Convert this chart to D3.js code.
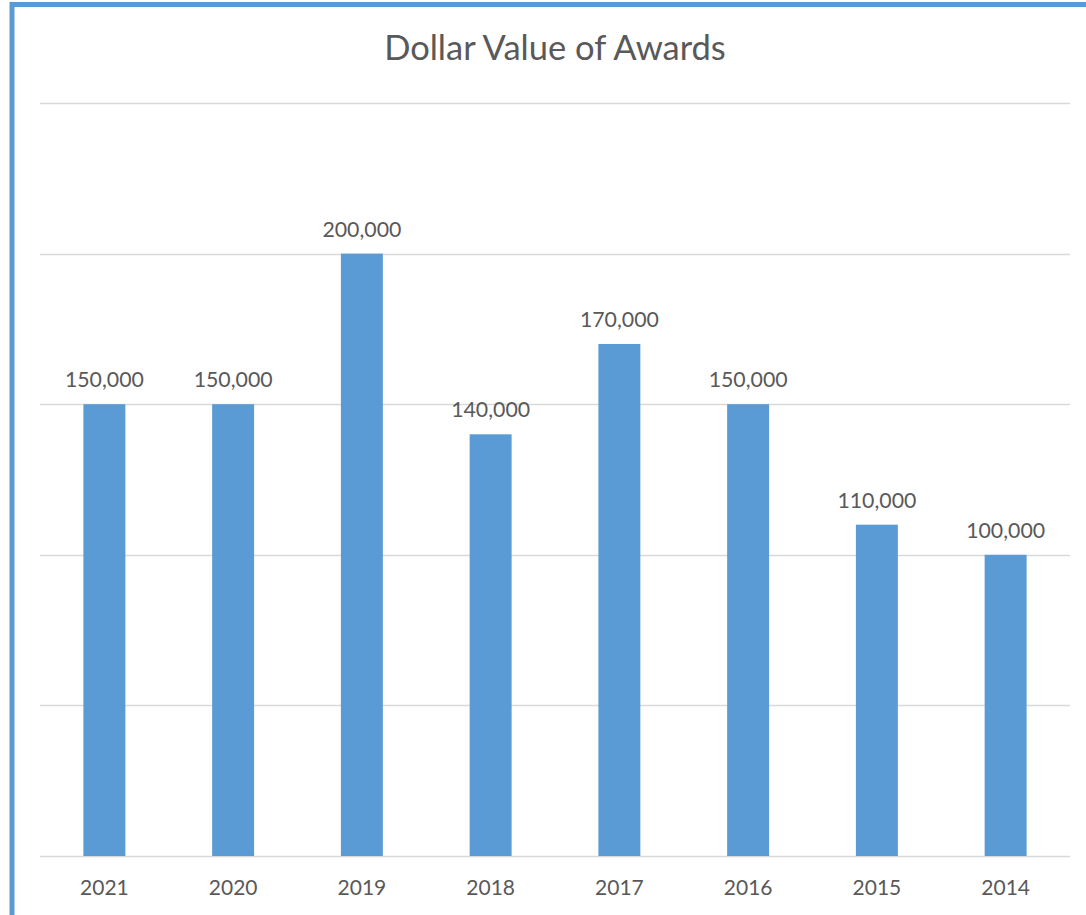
<!DOCTYPE html>
<html>
<head>
<meta charset="utf-8">
<script src="https://cdn.jsdelivr.net/npm/d3@7"></script>
<style>
  html, body { margin: 0; padding: 0; background: #fff; }
  svg { display: block; }
  text { font-family: Lato, "Open Sans", sans-serif; fill: #595959; }
</style>
</head>
<body>
<svg id="chart" width="1086" height="915"></svg>
<script>
const title = "Dollar Value of Awards";
const years = ["2021", "2020", "2019", "2018", "2017", "2016", "2015", "2014"];
const values = [150000, 150000, 200000, 140000, 170000, 150000, 110000, 100000];
const yTicks = [0, 50000, 100000, 150000, 200000, 250000];

const svg = d3.select("#chart");
const W = 1086, H = 915;
const plot = { left: 40, right: 1070, top: 103, bottom: 856 };

// chart frame (blue border, extends past window on right/bottom)
svg.append("rect")
  .attr("x", 12).attr("y", 4.5)
  .attr("width", W + 20).attr("height", H + 20)
  .attr("fill", "#fff")
  .attr("stroke", "#5b9bd5").attr("stroke-width", 5);

const x = d3.scaleBand()
  .domain(years)
  .range([plot.left, plot.right])
  .paddingInner(0.674)
  .paddingOuter(0.337);

const y = d3.scaleLinear()
  .domain([0, 250000])
  .range([plot.bottom, plot.top]);

// gridlines
svg.append("g")
  .selectAll("line")
  .data(yTicks)
  .join("line")
  .attr("x1", plot.left).attr("x2", plot.right)
  .attr("y1", d => Math.round(y(d)) + 0.5)
  .attr("y2", d => Math.round(y(d)) + 0.5)
  .attr("stroke", "#d9d9d9")
  .attr("stroke-width", 1.5);

// bars
svg.append("g")
  .selectAll("rect")
  .data(values)
  .join("rect")
  .attr("x", (d, i) => x(years[i]))
  .attr("y", d => y(d))
  .attr("width", x.bandwidth())
  .attr("height", d => y(0) - y(d))
  .attr("fill", "#5b9bd5");

// data labels
const fmt = d3.format(",");
svg.append("g")
  .selectAll("text")
  .data(values)
  .join("text")
  .attr("x", (d, i) => x(years[i]) + x.bandwidth() / 2)
  .attr("y", d => y(d) - 17)
  .attr("text-anchor", "middle")
  .attr("font-size", 21.3)
  .text(d => fmt(d));

// x axis labels
const xAxis = d3.axisBottom(x).tickSize(0).tickPadding(0);
const gx = svg.append("g")
  .attr("transform", `translate(0,${plot.bottom})`)
  .call(xAxis);
gx.select(".domain").remove();
gx.selectAll("text")
  .attr("dy", null)
  .attr("y", 39)
  .attr("font-size", 21)
  .style("font-family", "Lato, 'Open Sans', sans-serif")
  .style("fill", "#595959");

// title
svg.append("text")
  .attr("x", 555)
  .attr("y", 60)
  .attr("text-anchor", "middle")
  .attr("font-size", 34.5)
  .text(title);
</script>
</body>
</html>
